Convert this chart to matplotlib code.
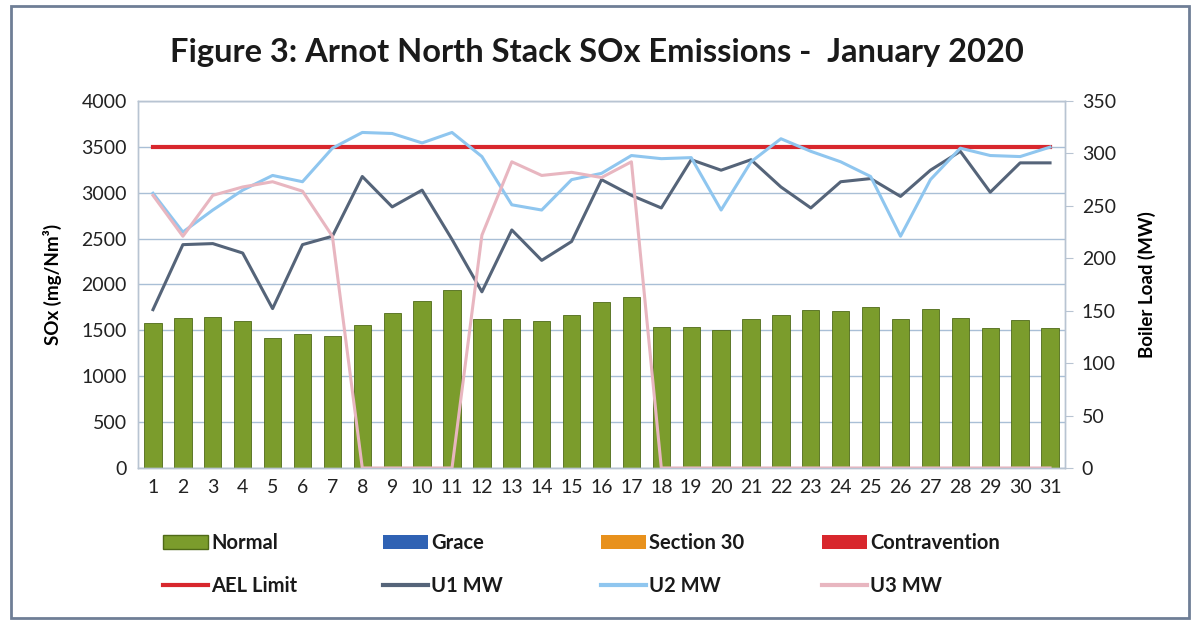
import numpy as np
import matplotlib.pyplot as plt
from matplotlib.patches import Patch, Rectangle
from matplotlib.lines import Line2D

plt.rcParams['font.family'] = ['Lato', 'DejaVu Sans']

days = list(range(1, 32))

# SOx daily average (mg/Nm3), all in the "Normal" band
sox_normal = [1580, 1630, 1645, 1600, 1420, 1455, 1435, 1560, 1690, 1815, 1940,
              1625, 1625, 1600, 1670, 1805, 1865, 1540, 1540, 1505, 1625, 1670,
              1725, 1715, 1760, 1625, 1735, 1635, 1525, 1615, 1525]
ael_limit = 3500

# boiler loads (MW)
u1_mw = [151, 213, 214, 205, 152, 213, 221, 278, 249, 265, 218, 168, 227, 198,
         216, 275, 260, 248, 294, 284, 294, 268, 248, 273, 276, 259, 284, 302,
         263, 291, 291]
u2_mw = [262, 225, 246, 265, 279, 273, 305, 320, 319, 310, 320, 297, 251, 246,
         275, 281, 298, 295, 296, 246, 292, 314, 302, 292, 278, 221, 275, 305,
         298, 297, 306]
u3_mw = [260, 221, 260, 268, 273, 264, 221, 0, 0, 0, 0, 222, 292, 279, 282, 277,
         292, 0, 0, 0, 0, 0, 0, 0, 0, 0, 0, 0, 0, 0, 0]

c_normal = '#7b9c2c'
c_grace = '#2f62b4'
c_s30 = '#e8911c'
c_contra = '#d8272d'
c_ael = '#d8272d'
c_u1 = '#556479'
c_u2 = '#8fc6ef'
c_u3 = '#e8b6c0'

fig = plt.figure(figsize=(11.93, 6.20), dpi=100)
ax1 = fig.add_axes([0.1157, 0.2452, 0.777, 0.5919])
ax2 = ax1.twinx()

ax1.bar(days, sox_normal, width=0.58, color=c_normal, edgecolor='#4f6a18',
        linewidth=0.6, zorder=2)
ax1.plot([days[0], days[-1]], [ael_limit, ael_limit], color=c_ael, linewidth=3,
         zorder=3)

ax2.plot(days, u1_mw, color=c_u1, linewidth=2.2)
ax2.plot(days, u2_mw, color=c_u2, linewidth=2.2)
ax2.plot(days, u3_mw, color=c_u3, linewidth=2.2)

ax1.set_xlim(0.5, 31.5)
ax1.set_ylim(0, 4000)
ax2.set_ylim(0, 350)
ax1.set_yticks(range(0, 4001, 500))
ax2.set_yticks(range(0, 351, 50))
ax1.set_xticks(days)
ax1.yaxis.grid(True, color='#a9bfd6', linewidth=1)
ax1.set_axisbelow(True)

for ax in (ax1, ax2):
    for s in ax.spines.values():
        s.set_color('#b8c4d2')
        s.set_linewidth(1)
ax1.tick_params(axis='both', length=0, labelsize=14, pad=8, colors='#222222')
ax2.tick_params(axis='y', length=6, labelsize=14, pad=6, colors='#222222',
                direction='out')
ax2.tick_params(axis='y', color='#b8c4d2')

ax1.set_ylabel('SOx (mg/Nm³)', fontsize=13.5, fontweight='bold', labelpad=14)
ax2.set_ylabel('Boiler Load (MW)', fontsize=13.5, fontweight='bold', labelpad=16)

fig.text(0.5, 0.915, 'Figure 3: Arnot North Stack SOx Emissions -  January 2020',
         ha='center', va='center', fontsize=23.5, fontweight='bold', color='#1a1a1a')

# legend laid out as 4 evenly spaced columns, 2 rows each
columns = [
    [Patch(facecolor=c_normal, edgecolor='#4f6a18', label='Normal'),
     Line2D([], [], color=c_ael, linewidth=3, label='AEL Limit')],
    [Patch(facecolor=c_grace, label='Grace'),
     Line2D([], [], color=c_u1, linewidth=3, label='U1 MW')],
    [Patch(facecolor=c_s30, label='Section 30'),
     Line2D([], [], color=c_u2, linewidth=3, label='U2 MW')],
    [Patch(facecolor=c_contra, label='Contravention'),
     Line2D([], [], color=c_u3, linewidth=3, label='U3 MW')],
]
col_x = [157, 377, 595, 816]
for x, hs in zip(col_x, columns):
    leg = fig.legend(handles=hs, loc='upper left',
                     bbox_to_anchor=(x / 1193 - 0.007, 1 - 519 / 620),
                     frameon=False, handlelength=2.25, handleheight=0.65,
                     handletextpad=0.15, labelspacing=1.15, borderpad=0.2,
                     prop={'weight': 'bold', 'size': 14.5})
    for t in leg.get_texts():
        t.set_color('#1a1a1a')

fig.patches.append(Rectangle((0.009, 0.004), 0.988, 0.986, transform=fig.transFigure,
                             fill=False, edgecolor='#6f7e96', linewidth=2))

fig.savefig('out.png', dpi=100)
